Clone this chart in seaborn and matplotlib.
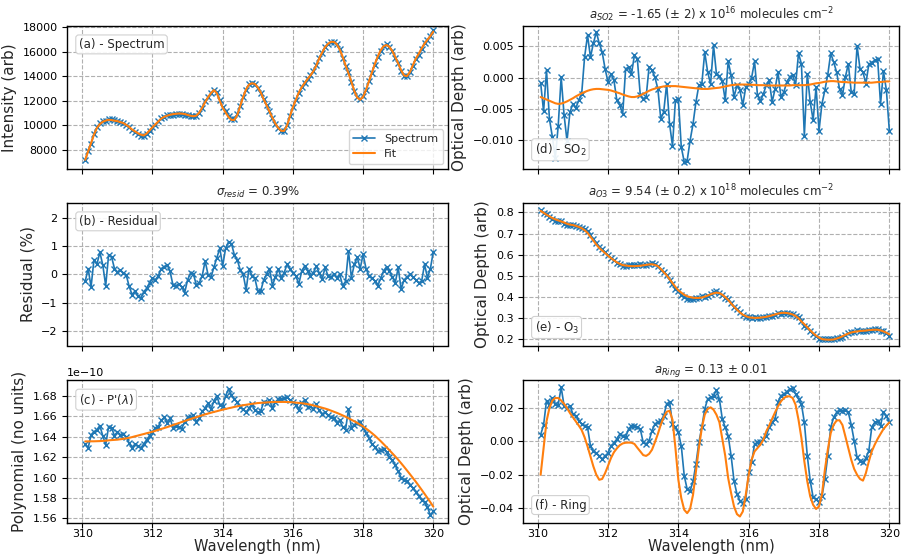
import numpy as np
import matplotlib
matplotlib.use("Agg")
import matplotlib.pyplot as plt
from matplotlib.lines import Line2D
import seaborn as sns

# ---------------- data ----------------
wavelength = [
    310.083, 310.167, 310.250, 310.333, 310.417, 310.500, 310.583, 310.667, 310.750, 310.833, 310.917, 311.000,
    311.083, 311.167, 311.250, 311.333, 311.417, 311.500, 311.583, 311.667, 311.750, 311.833, 311.917, 312.000,
    312.083, 312.167, 312.250, 312.333, 312.417, 312.500, 312.583, 312.667, 312.750, 312.833, 312.917, 313.000,
    313.083, 313.167, 313.250, 313.333, 313.417, 313.500, 313.583, 313.667, 313.750, 313.833, 313.917, 314.000,
    314.083, 314.167, 314.250, 314.333, 314.417, 314.500, 314.583, 314.667, 314.750, 314.833, 314.917, 315.000,
    315.083, 315.167, 315.250, 315.333, 315.417, 315.500, 315.583, 315.667, 315.750, 315.833, 315.917, 316.000,
    316.083, 316.167, 316.250, 316.333, 316.417, 316.500, 316.583, 316.667, 316.750, 316.833, 316.917, 317.000,
    317.083, 317.167, 317.250, 317.333, 317.417, 317.500, 317.583, 317.667, 317.750, 317.833, 317.917, 318.000,
    318.083, 318.167, 318.250, 318.333, 318.417, 318.500, 318.583, 318.667, 318.750, 318.833, 318.917, 319.000,
    319.083, 319.167, 319.250, 319.333, 319.417, 319.500, 319.583, 319.667, 319.750, 319.833, 319.917, 320.000,
]

# (a) fitted spectrum (arb)
spectrum_fit = [
    7200, 7900, 8560, 9260, 9800, 10110, 10300, 10400, 10460, 10440, 10390, 10350,
    10270, 10200, 10050, 9880, 9670, 9520, 9370, 9250, 9180, 9340, 9600, 9850,
    10090, 10330, 10560, 10700, 10800, 10870, 10920, 10950, 10975, 10965, 10930, 10860,
    10790, 10750, 10800, 11050, 11450, 11900, 12300, 12640, 12880, 12630, 12000, 11450,
    11050, 10680, 10450, 10450, 10870, 11600, 12320, 12950, 13330, 13440, 13380, 13100,
    12700, 12140, 11650, 11130, 10620, 10150, 9800, 9560, 9560, 9990, 10770, 11480,
    12080, 12680, 13100, 13450, 13780, 14080, 14420, 14880, 15470, 15940, 16380, 16650,
    16810, 16810, 16620, 16200, 15600, 14900, 14260, 13550, 12800, 12270, 12100, 12330,
    12900, 13600, 14300, 15000, 15620, 16130, 16450, 16560, 16400, 16060, 15570, 15050,
    14500, 14070, 14020, 14350, 14900, 15440, 15830, 16280, 16670, 16990, 17290, 17650,
]

# (b) fit residual (%)
residual = [
    -0.25, 0.20, -0.45, 0.52, 0.35, 0.78, 0.33, -0.40, 0.68, 0.62, 0.20, 0.08,
    0.15, 0.05, -0.02, -0.42, -0.72, -0.60, -0.78, -0.85, -0.62, -0.50, -0.30, -0.14,
    -0.20, -0.05, 0.20, 0.27, 0.34, 0.10, -0.38, -0.40, -0.35, -0.45, -0.65, -0.20,
    0.04, 0.00, -0.38, -0.30, -0.05, 0.47, -0.02, -0.10, 0.25, 0.58, 0.92, 0.30,
    0.92, 1.15, 1.08, 0.68, 0.50, 0.15, 0.00, -0.55, 0.20, -0.05, -0.15, -0.60,
    -0.60, -0.20, 0.00, 0.20, -0.40, -0.10, 0.18, -0.12, 0.05, 0.35, 0.18, 0.06,
    -0.05, -0.35, 0.10, 0.29, 0.12, -0.06, 0.05, 0.29, 0.05, -0.18, 0.24, -0.06,
    -0.10, 0.00, -0.12, 0.00, -0.41, -0.25, 0.82, -0.12, 0.35, 0.60, 0.20, 0.71,
    0.20, -0.06, -0.12, -0.24, -0.41, -0.15, 0.12, 0.26, 0.10, -0.10, -0.30, 0.24,
    -0.53, -0.20, -0.10, 0.00, -0.10, -0.20, -0.30, -0.25, 0.35, -0.12, 0.20, 0.80,
]

# (c) polynomial, measured and fitted (x 1e-10)
poly_meas = [
    1.633, 1.629, 1.642, 1.645, 1.647, 1.651, 1.641, 1.632, 1.650, 1.649, 1.641, 1.645,
    1.642, 1.643, 1.640, 1.634, 1.629, 1.633, 1.631, 1.629, 1.633, 1.637, 1.641, 1.645,
    1.649, 1.650, 1.656, 1.659, 1.654, 1.658, 1.649, 1.651, 1.650, 1.648, 1.655, 1.659,
    1.659, 1.661, 1.655, 1.658, 1.665, 1.668, 1.673, 1.667, 1.675, 1.680, 1.671, 1.670,
    1.680, 1.687, 1.681, 1.677, 1.674, 1.669, 1.667, 1.664, 1.668, 1.672, 1.666, 1.664,
    1.665, 1.674, 1.673, 1.676, 1.668, 1.674, 1.677, 1.677, 1.678, 1.679, 1.676, 1.674,
    1.671, 1.666, 1.673, 1.676, 1.669, 1.670, 1.667, 1.672, 1.666, 1.662, 1.664, 1.661,
    1.659, 1.658, 1.654, 1.656, 1.650, 1.647, 1.667, 1.649, 1.652, 1.654, 1.655, 1.649,
    1.644, 1.639, 1.633, 1.630, 1.626, 1.627, 1.628, 1.625, 1.620, 1.617, 1.612, 1.606,
    1.600, 1.598, 1.597, 1.593, 1.590, 1.586, 1.582, 1.578, 1.576, 1.571, 1.563, 1.567,
]
poly_fit = [
    1.6355, 1.6355, 1.6356, 1.6356, 1.6357, 1.6358, 1.6360, 1.6362, 1.6365, 1.6368, 1.6370, 1.6372,
    1.6376, 1.6380, 1.6385, 1.6390, 1.6397, 1.6405, 1.6412, 1.6420, 1.6427, 1.6435, 1.6442, 1.6450,
    1.6459, 1.6468, 1.6477, 1.6486, 1.6495, 1.6505, 1.6515, 1.6525, 1.6535, 1.6545, 1.6555, 1.6565,
    1.6574, 1.6584, 1.6593, 1.6602, 1.6611, 1.6620, 1.6628, 1.6636, 1.6644, 1.6651, 1.6659, 1.6666,
    1.6673, 1.6680, 1.6686, 1.6693, 1.6699, 1.6705, 1.6710, 1.6714, 1.6719, 1.6723, 1.6727, 1.6731,
    1.6733, 1.6735, 1.6737, 1.6739, 1.6741, 1.6742, 1.6742, 1.6742, 1.6742, 1.6741, 1.6740, 1.6738,
    1.6735, 1.6732, 1.6729, 1.6725, 1.6720, 1.6715, 1.6708, 1.6700, 1.6693, 1.6685, 1.6677, 1.6668,
    1.6657, 1.6646, 1.6635, 1.6623, 1.6610, 1.6597, 1.6582, 1.6567, 1.6552, 1.6536, 1.6519, 1.6502,
    1.6481, 1.6459, 1.6436, 1.6412, 1.6385, 1.6358, 1.6329, 1.6299, 1.6269, 1.6238, 1.6207, 1.6175,
    1.6141, 1.6106, 1.6070, 1.6034, 1.5997, 1.5960, 1.5921, 1.5881, 1.5841, 1.5800, 1.5758, 1.5715,
]
poly_scale = 1e-10

# (d) SO2 optical depth, measured and fitted (x 1e-3)
so2_meas = [
    -0.8, -5.4, 1.2, -6.6, -9.5, -12.9, -7.7, 0.1, -6.0, -10.1, -5.5, -4.2,
    -4.9, -3.6, -2.6, 3.3, 6.8, 3.3, 5.5, 7.3, 5.5, 4.1, 1.4, -0.7,
    0.6, -0.4, -3.6, -4.4, -5.8, 1.4, 1.7, 0.6, 3.6, 3.0, -2.8, -3.4,
    -3.1, 1.7, 1.2, 0.1, -1.8, -6.6, -5.5, -1.0, -7.4, -10.9, -3.6, -3.4,
    -11.1, -13.5, -13.3, -10.1, -7.4, -3.9, -1.2, -1.0, 4.1, 0.9, -1.0, 5.2,
    0.6, 0.3, -0.6, -3.6, 2.6, 0.4, -3.1, -1.2, -2.0, -4.4, -1.5, -1.0,
    0.0, 2.6, -2.8, -3.8, -2.6, -1.2, -0.4, -3.9, -1.8, 0.9, -3.1, -2.3,
    -0.7, 0.1, 0.5, -1.2, 3.9, 2.2, -9.3, 0.6, -3.9, -6.8, -1.5, -8.5,
    -4.2, -2.0, 0.5, 3.9, 2.5, 0.9, -1.8, -2.8, 0.1, 2.2, -2.3, -2.6,
    5.1, 1.4, 0.9, -1.0, 2.2, 2.4, 2.8, 3.0, -4.2, 1.0, -2.0, -8.5,
]
so2_fit = [
    -3.1, -3.3, -3.5, -3.7, -3.9, -4.1, -4.2, -4.15, -4.0, -3.8, -3.55, -3.3,
    -3.0, -2.75, -2.5, -2.3, -2.1, -1.95, -1.85, -1.8, -1.8, -1.85, -1.9, -1.95,
    -2.05, -2.2, -2.35, -2.5, -2.7, -2.85, -3.0, -3.1, -3.1, -3.0, -2.85, -2.6,
    -2.35, -2.1, -1.9, -1.75, -1.6, -1.5, -1.4, -1.35, -1.35, -1.35, -1.35, -1.4,
    -1.45, -1.5, -1.55, -1.6, -1.65, -1.7, -1.75, -1.8, -1.8, -1.8, -1.75, -1.7,
    -1.65, -1.6, -1.5, -1.4, -1.3, -1.2, -1.15, -1.1, -1.1, -1.1, -1.1, -1.1,
    -1.15, -1.15, -1.2, -1.2, -1.2, -1.25, -1.25, -1.25, -1.25, -1.25, -1.25, -1.25,
    -1.25, -1.25, -1.2, -1.2, -1.2, -1.2, -1.2, -1.15, -1.1, -1.0, -0.9, -0.85,
    -0.75, -0.65, -0.6, -0.55, -0.55, -0.6, -0.65, -0.7, -0.7, -0.75, -0.75, -0.8,
    -0.8, -0.8, -0.8, -0.8, -0.8, -0.8, -0.75, -0.7, -0.7, -0.65, -0.6, -0.6,
]
so2_scale = 1e-3

# (e) O3 fitted optical depth; measured OD = fit - residual
o3_fit = [
    0.807, 0.798, 0.789, 0.781, 0.773, 0.767, 0.762, 0.757, 0.752, 0.746, 0.742, 0.740,
    0.736, 0.731, 0.725, 0.716, 0.703, 0.685, 0.667, 0.648, 0.632, 0.620, 0.608, 0.596,
    0.584, 0.574, 0.564, 0.557, 0.551, 0.549, 0.547, 0.546, 0.546, 0.547, 0.548, 0.550,
    0.552, 0.554, 0.555, 0.552, 0.546, 0.533, 0.518, 0.503, 0.485, 0.466, 0.448, 0.432,
    0.421, 0.411, 0.404, 0.400, 0.397, 0.396, 0.396, 0.398, 0.402, 0.407, 0.413, 0.418,
    0.421, 0.419, 0.411, 0.400, 0.387, 0.370, 0.355, 0.341, 0.328, 0.317, 0.310, 0.305,
    0.303, 0.302, 0.302, 0.303, 0.305, 0.307, 0.310, 0.314, 0.318, 0.322, 0.325, 0.326,
    0.325, 0.322, 0.318, 0.311, 0.300, 0.285, 0.272, 0.258, 0.243, 0.230, 0.218, 0.209,
    0.202, 0.200, 0.199, 0.199, 0.200, 0.204, 0.209, 0.215, 0.222, 0.228, 0.233, 0.236,
    0.238, 0.240, 0.241, 0.242, 0.244, 0.245, 0.246, 0.246, 0.243, 0.238, 0.232, 0.224,
]

# (f) Ring optical depth, measured and fitted (x 1e-3)
ring_meas = [
    4.0, 9.8, 24.4, 22.0, 26.0, 22.4, 22.0, 32.4, 21.4, 20.0, 21.4, 16.4,
    15.4, 12.4, 10.4, 9.4, 8.4, -2.6, -5.6, -7.0, -8.6, -10.6, -8.6, -7.0,
    -2.6, -1.0, 1.4, 4.4, 3.0, 2.4, 7.4, 9.4, 9.0, 8.8, 7.4, -0.6,
    -1.6, 0.5, 6.4, 10.4, 11.8, 12.4, 15.4, 22.4, 23.8, 10.4, 8.4, 5.4,
    -2.6, -20.6, -28.6, -29.6, -24.0, -13.6, -0.6, 8.4, 19.4, 25.4, 26.4, 27.4,
    30.8, 25.4, 13.4, 8.4, 3.4, -8.6, -23.6, -31.6, -35.6, -37.0, -34.6, -18.6,
    -12.6, -1.6, -0.6, -0.2, 1.4, 3.4, 8.4, 11.4, 13.4, 23.4, 27.4, 28.4,
    29.8, 31.4, 31.8, 28.4, 25.4, 22.4, 11.4, -8.6, -23.6, -33.6, -34.6, -36.6,
    -33.0, -22.6, -8.6, 8.4, 14.4, 17.4, 19.0, 18.4, 19.0, 17.4, 10.0, 0.4,
    -9.6, -11.6, -12.6, -10.0, -5.6, 8.4, 11.4, 12.0, 9.4, 17.8, 15.0, 11.8,
]
ring_fit = [
    -20.0, -4.0, 12.0, 20.0, 24.5, 26.0, 26.0, 24.5, 22.5, 20.0, 17.0, 14.5,
    12.0, 9.5, 6.8, 2.5, -3.0, -9.0, -15.0, -20.0, -23.0, -22.5, -19.0, -14.6,
    -10.0, -6.5, -4.2, -2.3, -1.2, -0.8, -0.7, -0.8, -1.5, -3.8, -6.0, -8.2,
    -8.7, -7.5, -5.0, -0.5, 4.5, 10.0, 14.5, 17.8, 18.3, 13.0, -4.0, -23.0,
    -34.0, -41.0, -43.0, -40.5, -32.0, -18.0, -4.0, 8.0, 16.0, 19.5, 20.4, 19.0,
    16.0, 11.5, 1.5, -8.6, -22.0, -31.0, -39.0, -43.6, -45.0, -42.0, -32.0, -20.0,
    -11.0, -6.0, -4.0, -2.0, 1.0, 6.0, 9.5, 13.5, 17.4, 21.0, 24.0, 26.0,
    27.0, 27.0, 26.0, 22.0, 13.0, 2.0, -12.0, -24.0, -33.0, -38.0, -40.5, -39.0,
    -32.0, -17.0, -5.0, 5.0, 10.0, 12.5, 12.7, 9.8, 3.0, -4.0, -11.0, -16.5,
    -20.0, -22.5, -23.5, -19.0, -12.0, -6.0, -2.0, 1.5, 4.5, 7.4, 9.5, 11.4,
]
ring_scale = 1e-3

# derived series
wl = np.array(wavelength)
resid = np.array(residual)
spec_fit = np.array(spectrum_fit, dtype=float)
spec_meas = spec_fit * (1 + resid / 100)
o3f = np.array(o3_fit)
o3_meas = o3f - resid / 100

# ---------------- figure ----------------
sns.set_style("ticks")
plt.rcParams["font.family"] = ["DejaVu Sans"]
plt.rcParams["axes.edgecolor"] = "black"
plt.rcParams["xtick.color"] = "black"
plt.rcParams["ytick.color"] = "black"

W, H = 901, 557
fig = plt.figure(figsize=(W / 100, H / 100), dpi=100)

def px_axes(x0, x1, top, bottom):
    return fig.add_axes([x0 / W, 1 - bottom / H, (x1 - x0) / W, (bottom - top) / H])

rows = [(25.7, 169.3), (202.7, 345.5), (380.0, 523.0)]
left_cols = (67.3, 448.3)
right_cols = (523.3, 899.0)
xlim_left = (309.573, 320.427)
xlim_right = (309.590, 320.275)

axes_l = [px_axes(*left_cols, *r) for r in rows]
axes_r = [px_axes(*right_cols, *r) for r in rows]

C0, C1 = "#1f77b4", "#ff7f0e"
meas_kw = dict(marker="x", markersize=5, markeredgewidth=1.0,
               markeredgecolor=C0, color=C0, linewidth=1.2)
fit_kw = dict(color=C1, linewidth=1.5)


def draw(ax, y_meas, y_fit=None):
    sns.lineplot(x=wl, y=y_meas, ax=ax, estimator=None, sort=False, **meas_kw)
    if y_fit is not None:
        sns.lineplot(x=wl, y=y_fit, ax=ax, estimator=None, sort=False, **fit_kw)


def style(ax, xlim, ylim, yticks, bottom=False):
    ax.set_xlim(*xlim)
    ax.set_ylim(*ylim)
    ax.set_xticks([310, 312, 314, 316, 318, 320])
    ax.set_yticks(yticks)
    ax.grid(True, linestyle="--", color="#b0b0b0", linewidth=0.8)
    ax.set_axisbelow(True)
    ax.tick_params(labelsize=8, direction="out", length=3.5, width=0.8)
    ax.tick_params(axis="x", pad=1.0)
    for s in ax.spines.values():
        s.set_linewidth(1.0)
        s.set_visible(True)
    if bottom:
        ax.set_xlabel("Wavelength (nm)", fontsize=10.5, labelpad=0)
    else:
        ax.tick_params(labelbottom=False)
        ax.set_xlabel("")


def tag(ax, text, x, y, va):
    ax.text(x, y, text, transform=ax.transAxes, ha="left", va=va, fontsize=8.5,
            bbox=dict(boxstyle="round,pad=0.25", fc="white", ec="#cccccc", lw=0.8, alpha=0.9),
            zorder=10)

# (a) spectrum
ax = axes_l[0]
draw(ax, spec_meas, spec_fit)
style(ax, xlim_left, (6427, 18130), [8000, 10000, 12000, 14000, 16000, 18000])
ax.set_ylabel("Intensity (arb)", fontsize=11)
handles = [Line2D([], [], **meas_kw), Line2D([], [], **fit_kw)]
ax.legend(handles, ["Spectrum", "Fit"], loc="lower right", fontsize=8,
          framealpha=0.8, edgecolor="#cccccc", borderpad=0.4, handlelength=2.0)
tag(ax, "(a) - Spectrum", 0.03, 0.915, "top")

# (b) residual
ax = axes_l[1]
draw(ax, resid)
style(ax, xlim_left, (-2.52, 2.53), [-2, -1, 0, 1, 2])
ax.set_ylabel("Residual (%)", fontsize=11)
ax.set_title(r"$\sigma_{resid}$ = 0.39%", fontsize=8.5, pad=5)
tag(ax, "(b) - Residual", 0.03, 0.915, "top")

# (c) polynomial
ax = axes_l[2]
draw(ax, np.array(poly_meas) * poly_scale, np.array(poly_fit) * poly_scale)
style(ax, xlim_left, (1.5555e-10, 1.6957e-10),
      [1.56e-10, 1.58e-10, 1.60e-10, 1.62e-10, 1.64e-10, 1.66e-10, 1.68e-10], bottom=True)
ax.yaxis.get_offset_text().set_fontsize(8)
ax.set_ylabel("Polynomial (no units)", fontsize=11)
tag(ax, r"(c) - P'($\lambda$)", 0.03, 0.915, "top")

# (d) SO2
ax = axes_r[0]
draw(ax, np.array(so2_meas) * so2_scale, np.array(so2_fit) * so2_scale)
style(ax, xlim_right, (-0.01468, 0.00833), [-0.010, -0.005, 0.000, 0.005])
ax.set_ylabel("Optical Depth (arb)", fontsize=11)
ax.set_title(r"$a_{SO2}$ = -1.65 ($\pm$ 2) x 10$^{16}$ molecules cm$^{-2}$", fontsize=8.5, pad=5)
tag(ax, r"(d) - SO$_2$", 0.03, 0.08, "bottom")

# (e) O3
ax = axes_r[1]
draw(ax, o3_meas, o3f)
style(ax, xlim_right, (0.1716, 0.8455), [0.2, 0.3, 0.4, 0.5, 0.6, 0.7, 0.8])
ax.set_ylabel("Optical Depth (arb)", fontsize=11)
ax.set_title(r"$a_{O3}$ = 9.54 ($\pm$ 0.2) x 10$^{18}$ molecules cm$^{-2}$", fontsize=8.5, pad=5)
tag(ax, r"(e) - O$_3$", 0.03, 0.07, "bottom")

# (f) Ring
ax = axes_r[2]
draw(ax, np.array(ring_meas) * ring_scale, np.array(ring_fit) * ring_scale)
style(ax, xlim_right, (-0.0489, 0.0368), [-0.04, -0.02, 0.00, 0.02], bottom=True)
ax.set_ylabel("Optical Depth (arb)", fontsize=11)
ax.set_title(r"$a_{Ring}$ = 0.13 $\pm$ 0.01", fontsize=8.5, pad=5)
tag(ax, "(f) - Ring", 0.03, 0.08, "bottom")

fig.savefig("out.png", dpi=100)
